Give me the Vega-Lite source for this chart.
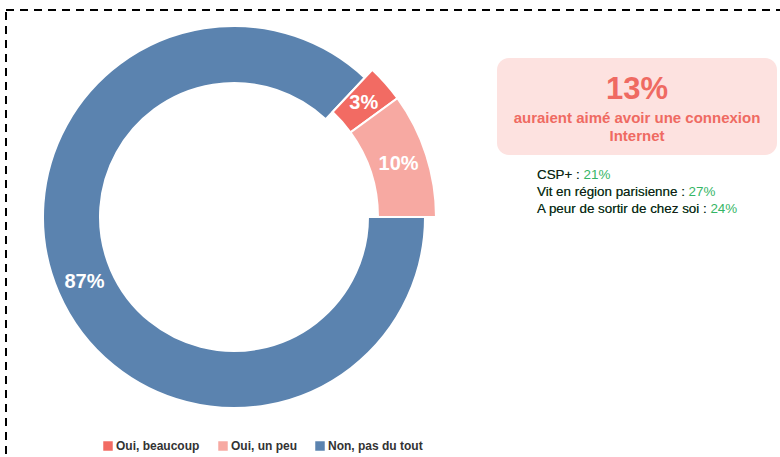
{
  "$schema": "https://vega.github.io/schema/vega-lite/v6.json",
  "width": 780,
  "height": 457,
  "autosize": "none",
  "padding": {"left": 6, "top": 10, "right": -6, "bottom": -10},
  "background": "white",
  "config": {
    "view": {"stroke": "black", "strokeDash": [8, 6], "strokeWidth": 2},
    "font": "Liberation Sans",
    "legend": {
      "orient": "none",
      "legendX": 96,
      "legendY": 430,
      "direction": "horizontal",
      "symbolType": "square",
      "symbolSize": 90,
      "symbolStrokeWidth": 0,
      "symbolOpacity": 1,
      "labelFontSize": 12,
      "labelFontWeight": "bold",
      "labelColor": "#333333",
      "labelFont": "Liberation Sans",
      "columnPadding": 17,
      "labelOffset": 2
    }
  },
  "datasets": {
    "reponses": [
      {"categorie": "Oui, beaucoup", "part": 0.03, "ordre": 1},
      {"categorie": "Oui, un peu", "part": 0.10, "ordre": 2},
      {"categorie": "Non, pas du tout", "part": 0.87, "ordre": 3}
    ],
    "encart": [
      {"chiffre": "13%", "texte": "auraient aimé avoir une connexion\nInternet"}
    ],
    "details": [
      {"rang": 1, "prefixe": "CSP+ :", "ligne": "CSP+ : 21%"},
      {"rang": 2, "prefixe": "Vit en région parisienne :", "ligne": "Vit en région parisienne : 27%"},
      {"rang": 3, "prefixe": "A peur de sortir de chez soi :", "ligne": "A peur de sortir de chez soi : 24%"}
    ]
  },
  "layer": [
    {
      "data": {"name": "encart"},
      "mark": {"type": "rect", "fill": "#FDE2E0", "cornerRadius": 12},
      "encoding": {
        "x": {"value": 491},
        "x2": {"value": 771},
        "y": {"value": 48},
        "y2": {"value": 145}
      }
    },
    {
      "data": {"name": "encart"},
      "mark": {"type": "text", "font": "Liberation Sans", "fontSize": 31, "fontWeight": "bold", "color": "#EF6A62", "align": "center", "baseline": "middle"},
      "encoding": {
        "text": {"field": "chiffre"},
        "x": {"value": 631},
        "y": {"value": 80}
      }
    },
    {
      "data": {"name": "encart"},
      "mark": {"type": "text", "font": "Liberation Sans", "fontSize": 15, "fontWeight": "bold", "color": "#EF6A62", "align": "center", "baseline": "middle", "lineBreak": "\n", "lineHeight": 18},
      "encoding": {
        "text": {"field": "texte"},
        "x": {"value": 631},
        "y": {"value": 108}
      }
    },
    {
      "data": {"name": "details"},
      "mark": {"type": "text", "font": "Liberation Sans", "fontSize": 13.4, "color": "#34B565", "align": "left", "baseline": "middle"},
      "encoding": {
        "text": {"field": "ligne"},
        "x": {"value": 531},
        "y": {"field": "rang", "type": "ordinal", "axis": null, "scale": {"type": "point", "range": [165, 199], "padding": 0}}
      }
    },
    {
      "data": {"name": "details"},
      "mark": {"type": "text", "font": "Liberation Sans", "fontSize": 13.4, "color": "#1a1a1a", "align": "left", "baseline": "middle"},
      "encoding": {
        "text": {"field": "prefixe"},
        "x": {"value": 531},
        "y": {"field": "rang", "type": "ordinal", "axis": null, "scale": {"type": "point", "range": [165, 199], "padding": 0}}
      }
    },
    {
      "data": {"name": "reponses"},
      "mark": {"type": "arc", "radius": 191, "radius2": 134, "stroke": "white", "strokeWidth": 2},
      "encoding": {
        "theta": {"field": "part", "type": "quantitative", "stack": true, "scale": {"range": [0.754, 7.037]}},
        "order": {"field": "ordre", "type": "quantitative"},
        "color": {
          "field": "categorie",
          "type": "nominal",
          "title": null,
          "scale": {"domain": ["Oui, beaucoup", "Oui, un peu", "Non, pas du tout"], "range": ["#F26B63", "#F7A9A2", "#5B83AF"]}
        },
        "opacity": {"condition": {"test": "datum.categorie === 'Non, pas du tout'", "value": 1}, "value": 0},
        "x": {"value": 228},
        "y": {"value": 207}
      }
    },
    {
      "data": {"name": "reponses"},
      "mark": {"type": "arc", "radius": 202, "radius2": 144, "stroke": "white", "strokeWidth": 2},
      "encoding": {
        "theta": {"field": "part", "type": "quantitative", "stack": true, "scale": {"range": [0.754, 7.037]}},
        "order": {"field": "ordre", "type": "quantitative"},
        "color": {"field": "categorie", "type": "nominal", "title": null},
        "opacity": {"condition": {"test": "datum.categorie === 'Non, pas du tout'", "value": 0}, "value": 1},
        "x": {"value": 228},
        "y": {"value": 207}
      }
    },
    {
      "data": {"name": "reponses"},
      "mark": {"type": "text", "radius": 163, "font": "Liberation Sans", "fontSize": 20, "fontWeight": "bold", "color": "white", "align": "center", "baseline": "middle"},
      "encoding": {
        "theta": {"field": "part", "type": "quantitative", "stack": true, "scale": {"range": [0.754, 7.037]}},
        "order": {"field": "ordre", "type": "quantitative"},
        "text": {"field": "part", "type": "quantitative", "format": ".0%"},
        "opacity": {"condition": {"test": "datum.categorie === 'Non, pas du tout'", "value": 1}, "value": 0},
        "x": {"value": 228},
        "y": {"value": 207}
      }
    },
    {
      "data": {"name": "reponses"},
      "mark": {"type": "text", "radius": 173, "font": "Liberation Sans", "fontSize": 20, "fontWeight": "bold", "color": "white", "align": "center", "baseline": "middle"},
      "encoding": {
        "theta": {"field": "part", "type": "quantitative", "stack": true, "scale": {"range": [0.754, 7.037]}},
        "order": {"field": "ordre", "type": "quantitative"},
        "text": {"field": "part", "type": "quantitative", "format": ".0%"},
        "opacity": {"condition": {"test": "datum.categorie === 'Non, pas du tout'", "value": 0}, "value": 1},
        "x": {"value": 228},
        "y": {"value": 207}
      }
    }
  ]
}
